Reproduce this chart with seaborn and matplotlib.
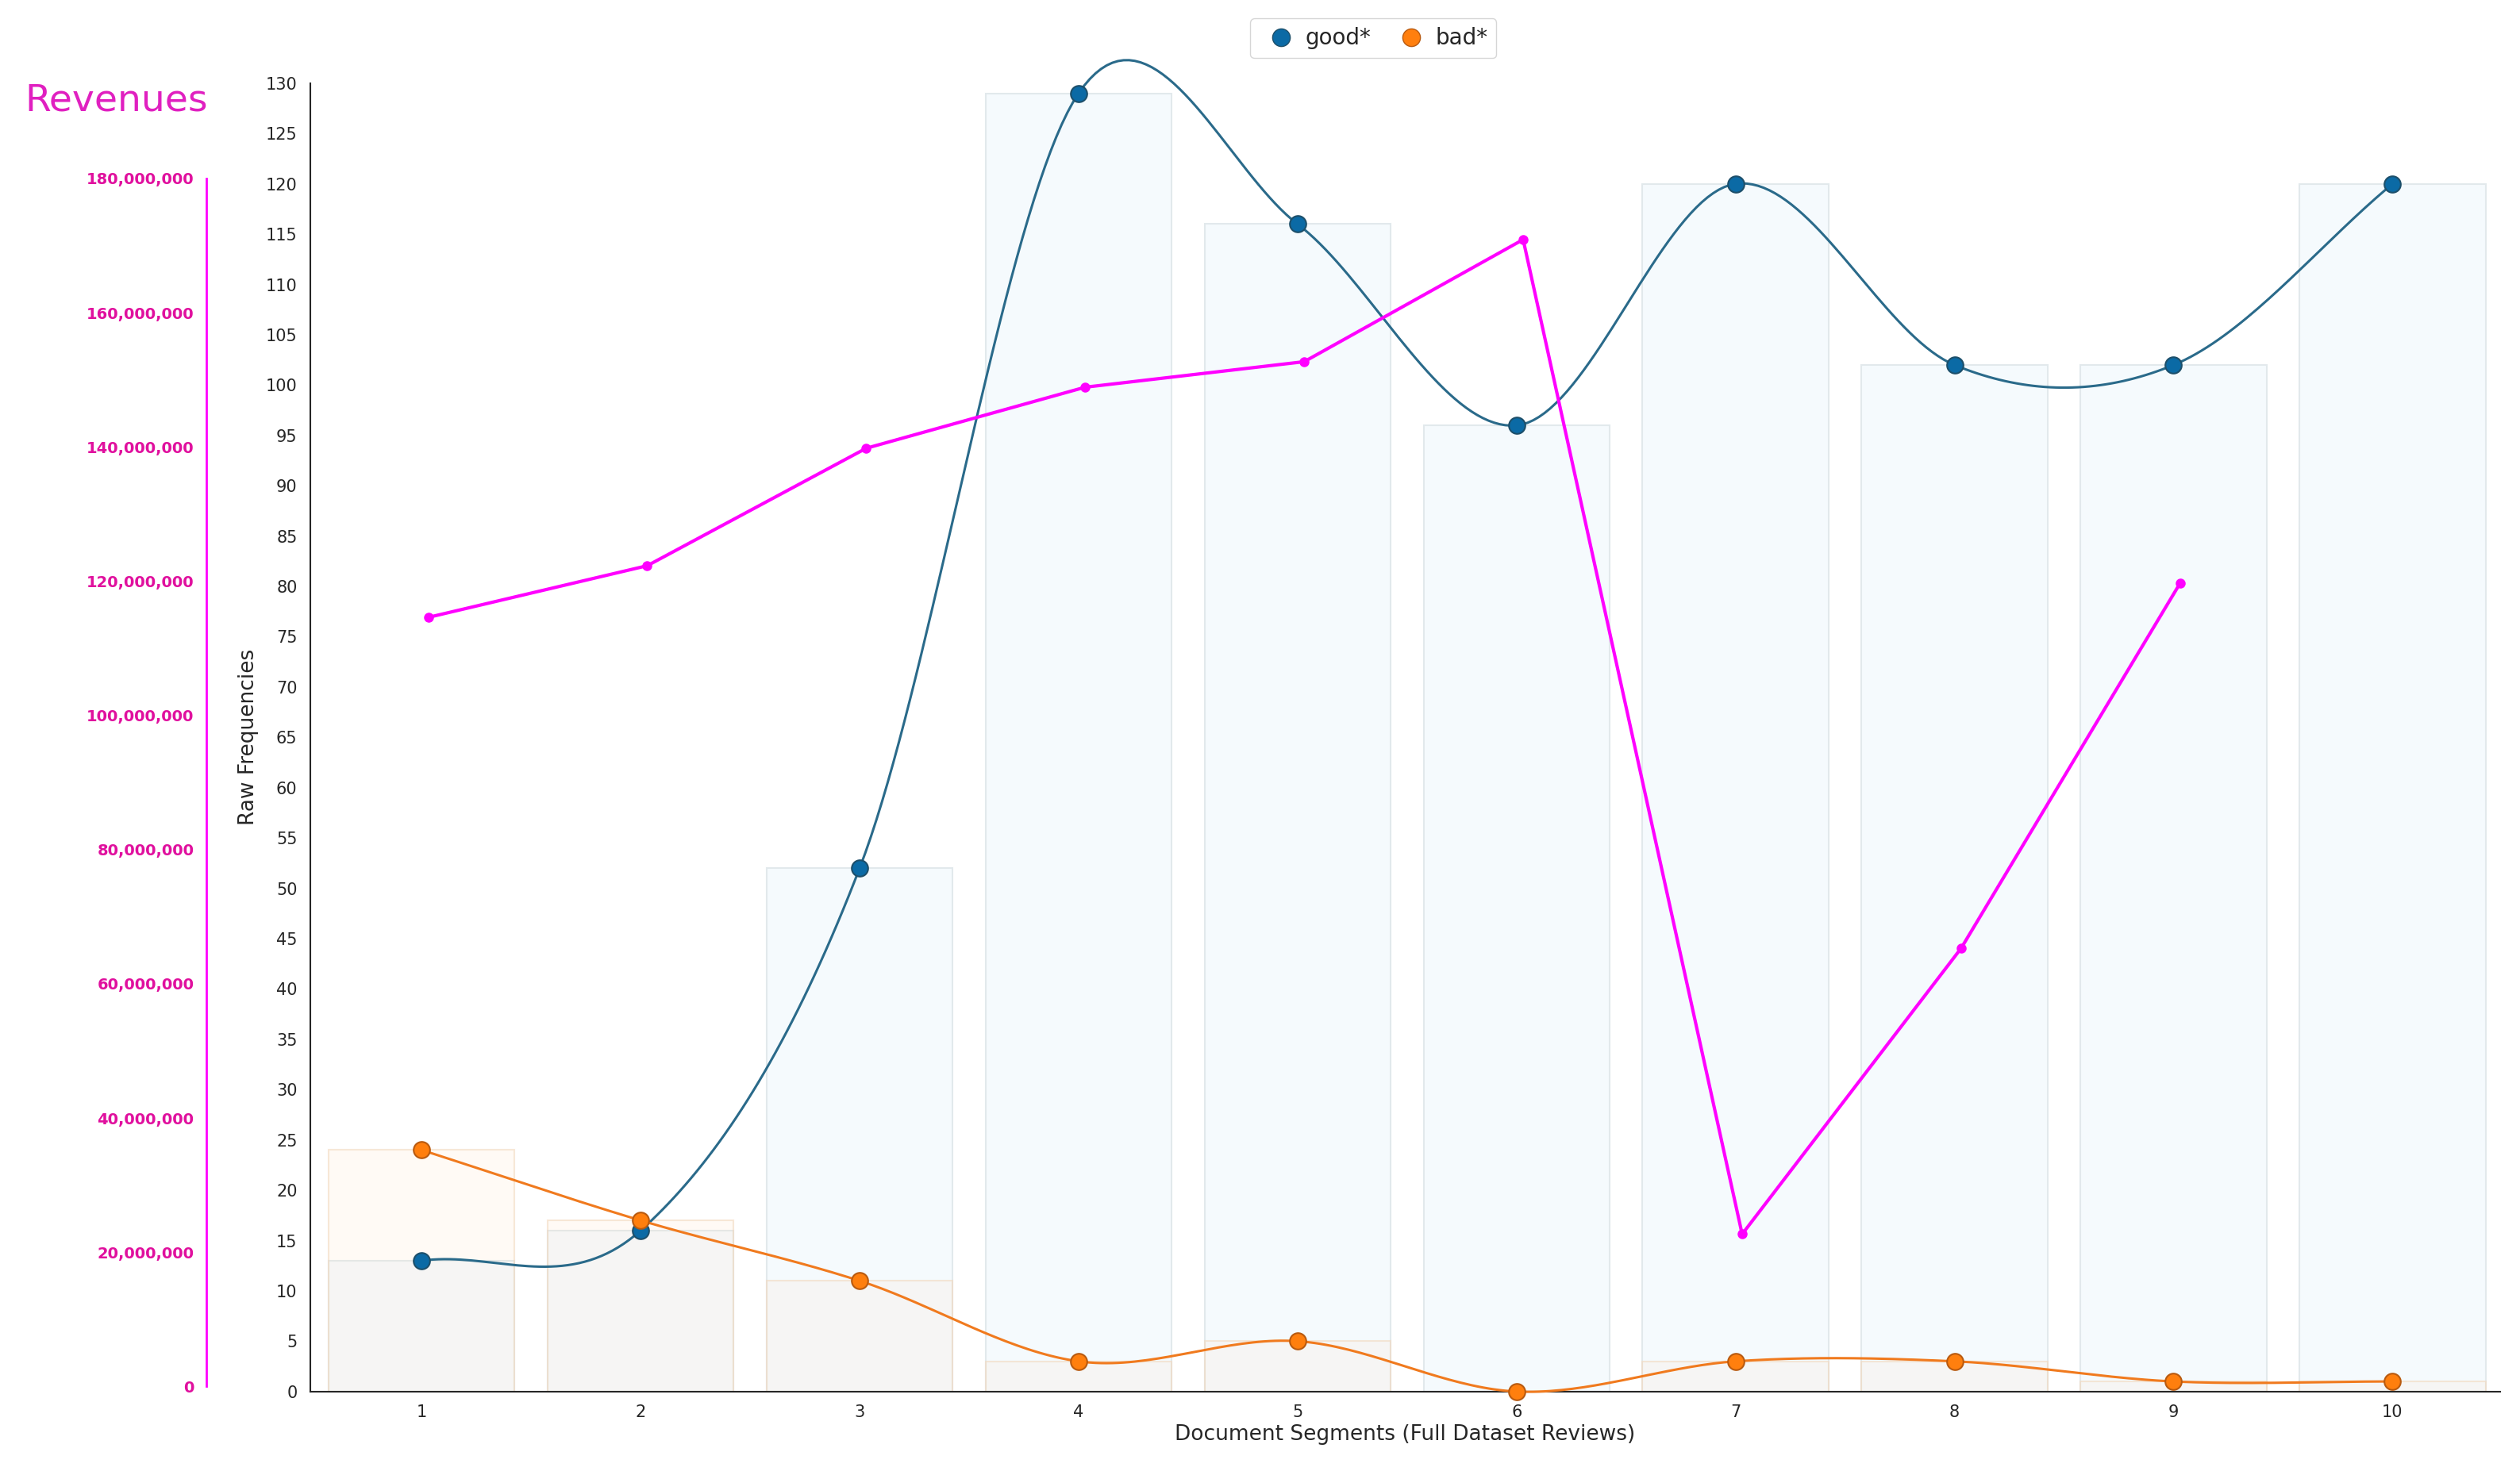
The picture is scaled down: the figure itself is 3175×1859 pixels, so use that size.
import numpy as np
import matplotlib
matplotlib.use("Agg")
import matplotlib.pyplot as plt
import seaborn as sns
import pandas as pd

segments = [1, 2, 3, 4, 5, 6, 7, 8, 9, 10]
good = [13, 16, 52, 129, 116, 96, 120, 102, 102, 120]
bad = [24, 17, 11, 3, 5, 0, 3, 3, 1, 1]
rev_x = [1, 2, 3, 4, 5, 6, 7, 8, 9]
revenues = [114.6e6, 122.3e6, 139.8e6, 148.9e6, 152.7e6, 170.9e6, 22.7e6, 65.3e6, 119.7e6]

sns.set_style("white")
plt.rcParams['font.family'] = ['DejaVu Sans']

def catmull(xs, ys, n=40):
    xs = np.asarray(xs, float); ys = np.asarray(ys, float)
    P = np.column_stack([xs, ys])
    P = np.vstack([2*P[0]-P[1], P, 2*P[-1]-P[-2]])
    out = []
    for i in range(1, len(P)-2):
        p0, p1, p2, p3 = P[i-1], P[i], P[i+1], P[i+2]
        t = np.linspace(0, 1, n)[:, None]
        c = 0.5*((2*p1) + (-p0+p2)*t + (2*p0-5*p1+4*p2-p3)*t**2 + (-p0+3*p1-3*p2+p3)*t**3)
        out.append(c)
    c = np.vstack(out)
    return c[:, 0], c[:, 1]

fig = plt.figure(figsize=(31.75, 18.59), dpi=100)
ax = fig.add_axes([0.123, 0.0566, 0.869, 0.887])
df = pd.DataFrame({"seg": segments, "good": good, "bad": bad})
ax.bar(df.seg, df.good, width=0.85, color="#f5fafd", edgecolor="#e2e9ec", linewidth=1.5, zorder=1)
ax.bar(df.seg, df.bad, width=0.85, color=(1.0, 0.85, 0.7, 0.12), edgecolor=(0.95, 0.85, 0.75, 0.6), linewidth=1.5, zorder=1)

gx, gy = catmull(segments, good)
bx, by = catmull(segments, bad)
ax.plot(gx, gy, color="#2a6a8a", lw=2.2, zorder=3, clip_on=False)
ax.plot(bx, by, color="#f07a1e", lw=2.2, zorder=3, clip_on=False)
sns.scatterplot(x=segments, y=good, ax=ax, color="#0b6aa5", s=220, edgecolor="#1d4f6a", linewidth=1.5, zorder=4, clip_on=False)
sns.scatterplot(x=segments, y=bad, ax=ax, color="#ff7f0e", s=220, edgecolor="#b85a10", linewidth=1.5, zorder=4, clip_on=False)

ax.set_xlim(0.49, 10.49)
ax.set_ylim(0, 130)
ax.set_yticks(range(0, 131, 5))
ax.set_xticks(segments)
ax.tick_params(labelsize=15, length=8, width=1.5)
for s in ["top", "right"]:
    ax.spines[s].set_visible(False)
ax.spines["left"].set_linewidth(1.5)
ax.spines["bottom"].set_linewidth(1.5)
ax.set_xlabel("Document Segments (Full Dataset Reviews)", fontsize=19, labelpad=4)
ax.set_ylabel("Raw Frequencies", fontsize=19, labelpad=6)

from matplotlib.lines import Line2D
h = [Line2D([], [], marker='o', ls='', color="#0b6aa5", markersize=16, markeredgecolor="#1d4f6a"),
     Line2D([], [], marker='o', ls='', color="#ff7f0e", markersize=16, markeredgecolor="#b85a10")]
fig.legend(h, ["good*", "bad*"], loc="upper center", bbox_to_anchor=(0.545, 0.995), ncol=2,
           fontsize=20, frameon=True, handletextpad=0.1, columnspacing=0.8, borderpad=0.4, edgecolor="#cccccc")

# revenue axis
rax = fig.add_axes([0.082, 0.06, 0.0, 0.819], facecolor="none")
rax2 = fig.add_axes([0.123, 0.06, 0.869, 0.819], facecolor="none")
rax2.set_xlim(0.49, 10.49); rax2.set_ylim(0, 180e6); rax2.axis("off")
rax2.plot([x + 0.03 for x in rev_x], revenues, color="#ff00ff", lw=3, marker='o', markersize=8, zorder=5)
rax.set_ylim(0, 180e6)
rax.set_yticks(np.arange(0, 180e6 + 1, 20e6))
rax.set_yticklabels([f"{int(v):,}" for v in np.arange(0, 180e6 + 1, 20e6)], color="#e0109e", fontsize=14, fontweight="bold")
rax.tick_params(axis='y', colors="#ff00ff", labelcolor="#e0109e", length=8, width=1.5)
rax.set_xticks([])
for s in ["top", "right", "bottom"]:
    rax.spines[s].set_visible(False)
rax.spines["left"].set_color("#ff00ff"); rax.spines["left"].set_linewidth(2)
fig.text(0.01, 0.925, "Revenues", color="#e020c0", fontsize=34)

fig.savefig("out.png", dpi=100)
